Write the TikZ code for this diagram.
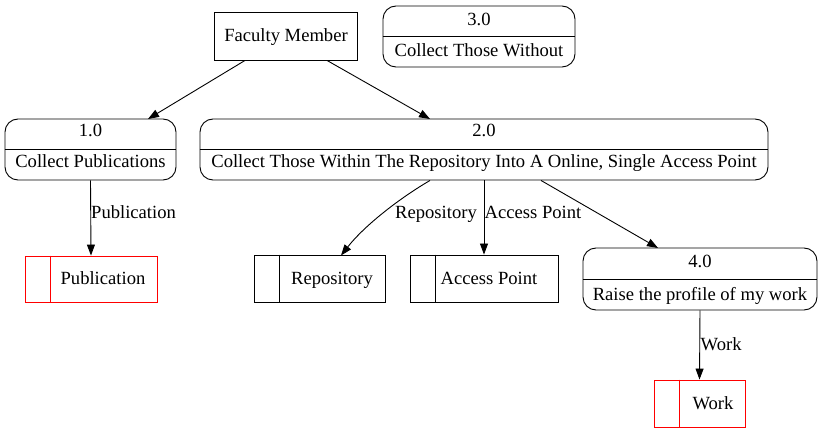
\documentclass[tikz,border=0pt]{standalone}
\usepackage{fontspec}
\setmainfont{Liberation Serif}
\usetikzlibrary{arrows.meta}
\begin{document}
\begin{tikzpicture}[x=1pt,y=-1pt,
  every node/.style={font=\fontsize{18.6}{21}\selectfont},
  proc/.style={draw,line width=0.9pt,rounded corners=13pt,inner sep=0pt},
  ext/.style={draw,line width=0.9pt,inner sep=0pt},
  store/.style={draw,line width=0.9pt,inner sep=0pt},
  txt/.style={inner sep=0pt,text height=12.5pt,text depth=0.5pt},
  flow/.style={line width=0.9pt,-{Triangle[length=11pt,width=8pt]}},
  lbl/.style={inner sep=0pt,anchor=west,text height=12.5pt,text depth=0.5pt}]
\useasboundingbox (0,0) rectangle (823,433);
% external entity
\node[ext,minimum width=143pt,minimum height=48pt] (fm) at (286,36) {};
\node[txt] (fmt) at (286,36) {Faculty Member};
% process 3.0
\node[proc,minimum width=192pt,minimum height=61pt] (p3) at (479,36.5) {};
\draw[line width=0.9pt] (p3.west |- 0,36) coordinate (p3l) -- (p3.east |- 0,36) coordinate (p3r);
\node[txt] (p3n) at (479,20) {3.0};
\node[txt] (p3d) at (479,51) {Collect Those Without};
% process 1.0
\node[proc,minimum width=171pt,minimum height=61pt] (p1) at (90.5,149.5) {};
\draw[line width=0.9pt] (p1.west |- 0,149) coordinate (p1l) -- (p1.east |- 0,149) coordinate (p1r);
\node[txt] (p1n) at (90.5,131) {1.0};
\node[txt] (p1d) at (90.5,162) {Collect Publications};
% process 2.0
\node[proc,minimum width=568pt,minimum height=61pt] (p2) at (484,149.5) {};
\draw[line width=0.9pt] (p2.west |- 0,149) coordinate (p2l) -- (p2.east |- 0,149) coordinate (p2r);
\node[txt] (p2n) at (484,131) {2.0};
\node[txt] (p2d) at (484,162) {Collect Those Within The Repository Into A Online, Single Access Point};
% process 4.0
\node[proc,minimum width=234pt,minimum height=62pt] (p4) at (700,279) {};
\draw[line width=0.9pt] (p4.west |- 0,279) coordinate (p4l) -- (p4.east |- 0,279) coordinate (p4r);
\node[txt] (p4n) at (700,262) {4.0};
\node[txt] (p4d) at (700,294) {Raise the profile of my work};
% stores
\node[store,red,minimum width=132pt,minimum height=46pt] (s1) at (91,279) {};
\draw[red,line width=0.9pt] (s1.north west) ++(26,0) coordinate (s1a) -- (s1a |- s1.south);
\node[txt] (s1t) at (103,278) {Publication};
\node[store,minimum width=131pt,minimum height=47pt] (s2) at (319.5,278.5) {};
\draw[line width=0.9pt] (s2.north west) ++(26,0) coordinate (s2a) -- (s2a |- s2.south);
\node[txt] (s2t) at (332,278) {Repository};
\node[store,minimum width=148pt,minimum height=47pt] (s3) at (484,278.5) {};
\draw[line width=0.9pt] (s3.north west) ++(26,0) coordinate (s3a) -- (s3a |- s3.south);
\node[txt] (s3t) at (489,278) {Access Point};
\node[store,red,minimum width=91pt,minimum height=47pt] (s4) at (699.5,403.5) {};
\draw[red,line width=0.9pt] (s4.north west) ++(26,0) coordinate (s4a) -- (s4a |- s4.south);
\node[txt] (s4t) at (713,403) {Work};
% flows
\draw[flow] (fm.south -| 245,0) -- (148,119);
\draw[flow] (fm.south -| 327,0) -- (430,119);
\draw[flow] (p1.south) -- (s1.north);
\node[lbl] (l1) at (91,213) {Publication};
\draw[flow] (p2.south -| 430,0) .. controls (400,198) and (365,225) .. (341,255.5);
\node[lbl] (l2) at (395,213) {Repository};
\draw[flow] (p2.south) -- (s3.north);
\node[lbl] (l3) at (484.5,213) {Access Point};
\draw[flow] (p2.south -| 541,0) -- (658,248);
\draw[flow] (p4.south) -- (s4.north);
\node[lbl] (l4) at (700.5,344) {Work};
\end{tikzpicture}
\end{document}
